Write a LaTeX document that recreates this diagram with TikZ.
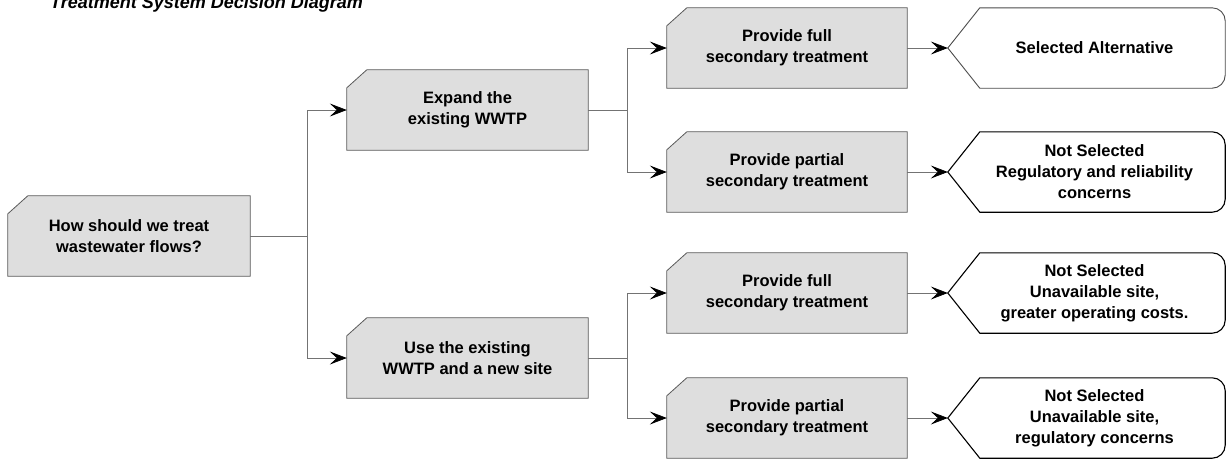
\documentclass[tikz,border=0pt]{standalone}
\usepackage{fontspec}
\setmainfont{Liberation Sans}
\usetikzlibrary{arrows.meta,backgrounds}
\tikzset{
  txt/.style={font=\bfseries\fontsize{16.5}{21}\selectfont, align=center, inner sep=0pt},
  greybox/.style={txt, minimum height=80pt},
  resultbox/.style={txt, minimum width=261pt, minimum height=80pt},
  boxline/.style={draw=black!65, line width=0.8pt, fill=black!13},
  resline/.style={draw=black, line width=1.1pt, fill=white},
  conn/.style={draw=black!55, line width=0.7pt},
  arr/.style={conn, -{Stealth[length=17pt,width=13pt,inset=7pt,black]}}
}
\newcommand\cutbox[1]{\path[boxline] (#1.south west) -- ([yshift=-18pt]#1.north west) -- ([xshift=20pt]#1.north west) -- (#1.north east) -- (#1.south east) -- cycle;}
\newcommand\resshape[2]{\path[#2] ([xshift=-16pt]#1.west) -- ([xshift=16pt]#1.north west) -- ([xshift=-13pt]#1.north east) arc[start angle=90,end angle=0,radius=13pt] -- ([yshift=13pt]#1.south east) arc[start angle=0,end angle=-90,radius=13pt] -- ([xshift=16pt]#1.south west) -- cycle;}
\begin{document}
\begin{tikzpicture}[x=1pt,y=-1pt]
\useasboundingbox (0,0) rectangle (1229,459);
\clip (0,0) rectangle (1229,459);
% title
\node[anchor=base west, inner sep=0pt, font=\bfseries\itshape\fontsize{18}{20}\selectfont] (title) at (50,8) {Treatment System Decision Diagram};
% nodes (text), shapes drawn behind
\node[greybox, minimum width=242pt] (root) at (129,236) {How should we treat\\wastewater flows?};
\node[greybox, minimum width=241pt] (expand) at (467.5,110) {Expand the\\existing WWTP};
\node[greybox, minimum width=241pt] (use) at (467.5,358) {Use the existing\\WWTP and a new site};
\node[greybox, minimum width=240pt] (f1) at (787,48) {Provide full\\secondary treatment};
\node[greybox, minimum width=240pt] (p1) at (787,172) {Provide partial\\secondary treatment};
\node[greybox, minimum width=240pt] (f2) at (787,293) {Provide full\\secondary treatment};
\node[greybox, minimum width=240pt] (p2) at (787,418) {Provide partial\\secondary treatment};
\node[resultbox] (r1) at (1094.5,48) {Selected Alternative};
\node[resultbox] (r2) at (1094.5,172) {Not Selected\\Regulatory and reliability\\concerns};
\node[resultbox] (r3) at (1094.5,293) {Not Selected\\Unavailable site,\\greater operating costs.};
\node[resultbox] (r4) at (1094.5,418) {Not Selected\\Unavailable site,\\regulatory concerns};
% shapes
\begin{pgfonlayer}{background}
\cutbox{root}\cutbox{expand}\cutbox{use}
\cutbox{f1}\cutbox{p1}\cutbox{f2}\cutbox{p2}
\resshape{r1}{draw=black!70, line width=0.9pt, fill=white}
\resshape{r2}{resline}\resshape{r3}{resline}\resshape{r4}{resline}
\end{pgfonlayer}
% junction coordinates
\coordinate (j1) at (307,236);
\coordinate (j2) at (627,110);
\coordinate (j3) at (627,358);
% connectors
\draw[conn] (root.east) -- (j1);
\draw[arr] (j1) |- (expand.west);
\draw[arr] (j1) |- (use.west);
\draw[conn] (expand.east) -- (j2);
\draw[arr] (j2) |- (f1.west);
\draw[arr] (j2) |- (p1.west);
\draw[conn] (use.east) -- (j3);
\draw[arr] (j3) |- (f2.west);
\draw[arr] (j3) |- (p2.west);
\draw[arr] (f1.east) -- ([xshift=-16pt]r1.west);
\draw[arr] (p1.east) -- ([xshift=-16pt]r2.west);
\draw[arr] (f2.east) -- ([xshift=-16pt]r3.west);
\draw[arr] (p2.east) -- ([xshift=-16pt]r4.west);
\end{tikzpicture}
\end{document}
